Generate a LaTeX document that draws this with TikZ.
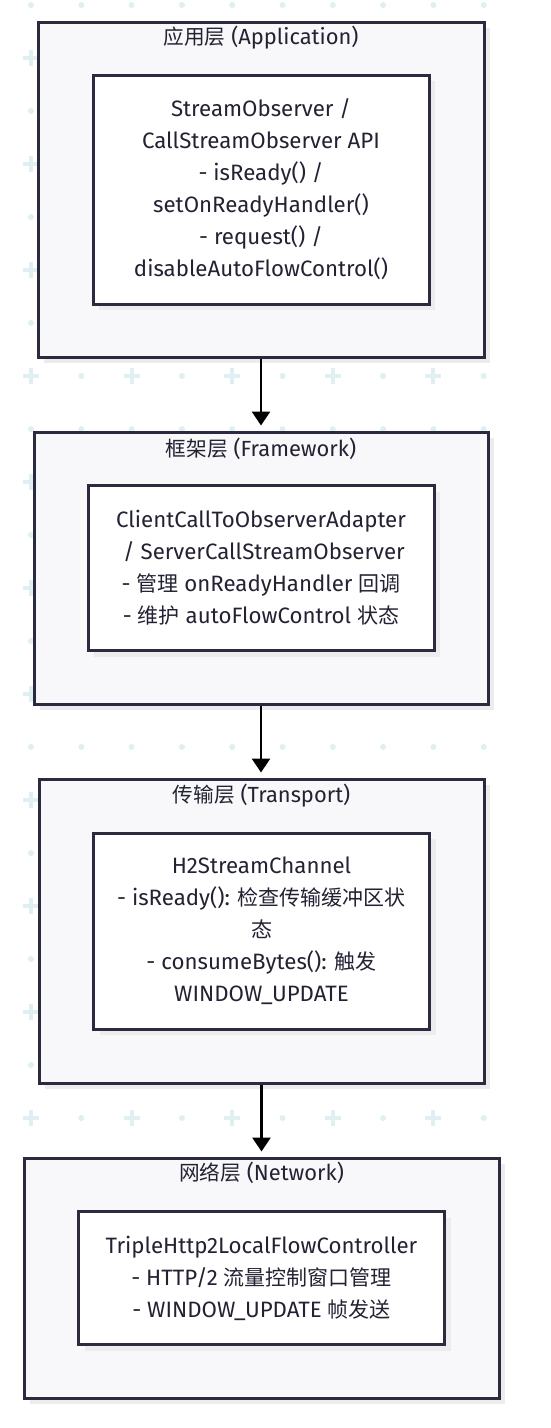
\documentclass[tikz,border=0pt]{standalone}
\usepackage{fontspec}
\setmainfont{Fira Sans}[Scale=1.06]
\newfontfamily\zhfont{Noto Sans CJK SC}
\newcommand{\zh}[1]{{\zhfont #1}}
\usetikzlibrary{positioning, arrows.meta, shadows}
\newlength{\px}
\setlength{\px}{0.75pt}
\definecolor{cBorder}{HTML}{2B2B40}
\definecolor{cLayer}{HTML}{F8F8FA}
\definecolor{cShadow}{HTML}{ECECEF}
\definecolor{cText}{HTML}{222233}
\definecolor{cGrid}{HTML}{DFEFF2}
\tikzset{
  layer/.style={
    rectangle, draw=cBorder, fill=cLayer, line width=3\px, inner sep=0pt,
    drop shadow={shadow xshift=6\px, shadow yshift=-6\px, fill=cShadow, opacity=1}
  },
  comp/.style={
    rectangle, draw=cBorder, fill=white, line width=3\px, inner sep=0pt,
    text=cText, align=center, font=\fontsize{15.75}{24}\selectfont,
    drop shadow={shadow xshift=6\px, shadow yshift=-6\px, fill=cShadow, opacity=1}
  },
  layertitle/.style={text=cText, font=\fontsize{15.5}{24}\selectfont, inner sep=0pt},
  flow/.style={-{Triangle[width=13.5pt, length=10.5pt]}, line width=2.2pt, shorten >=3.75pt},
  griddot/.style={fill=cGrid},
  gridcross/.style={draw=cGrid, line width=4\px},
}

\begin{document}
\begin{tikzpicture}[x=1\px, y=-1\px]

  \useasboundingbox (0,0) rectangle (550,1428);
  \fill[white] (0,0) rectangle (550,1428);

  % dotted background
  \foreach \j in {0,2,...,26}
    \foreach \i in {0,...,9}
      \fill[griddot] ({31+50.3*\i},{5+53*\j}) circle (3\px);
  \foreach \j in {1,3,...,27} {
    \foreach \i in {1,3,...,9}
      \fill[griddot] ({31+50.3*\i},{5+53*\j}) circle (3\px);
    \foreach \i in {0,2,...,8}
      \draw[gridcross, shift={({31+50.3*\i},{5+53*\j})}] (-8,0) -- (8,0) (0,-8) -- (0,8);
  }

  % layers
  \node[layer, minimum width=446\px, minimum height=335\px] (app) at (261,189.5) {};
  \node[layertitle] (appT) at ([yshift=-17\px]app.north) {\zh{应用层} (Application)};
  \node[comp, minimum width=336\px, minimum height=229\px] (appC) at (app.center)
    {StreamObserver /\\CallStreamObserver API\\- isReady() /\\setOnReadyHandler()\\- request() /\\disableAutoFlowControl()};

  \node[layer, minimum width=454\px, minimum height=272\px] (fw) at (261,568) {};
  \node[layertitle] (fwT) at ([yshift=-18\px]fw.north) {\zh{框架层} (Framework)};
  \node[comp, minimum width=346\px, minimum height=165\px] (fwC) at (fw.center)
    {ClientCallToObserverAdapter\\\ / ServerCallStreamObserver\\- \zh{管理} onReadyHandler \zh{回调}\\- \zh{维护} autoFlowControl \zh{状态}};

  \node[layer, minimum width=445\px, minimum height=304\px] (tp) at (261.5,931) {};
  \node[layertitle] (tpT) at ([yshift=-18\px]tp.north) {\zh{传输层} (Transport)};
  \node[comp, minimum width=336\px, minimum height=196\px] (tpC) at (tp.center)
    {H2StreamChannel\\- isReady(): \zh{检查传输缓冲区状}\\\zh{态}\\- consumeBytes(): \zh{触发}\\WINDOW\_UPDATE};

  \node[layer, minimum width=475\px, minimum height=240\px] (net) at (261.5,1278) {};
  \node[layertitle] (netT) at ([yshift=-16\px]net.north) {\zh{网络层} (Network)};
  \node[comp, minimum width=366\px, minimum height=133\px] (netC) at (net.center)
    {TripleHttp2LocalFlowController\\- HTTP/2 \zh{流量控制窗口管理}\\- WINDOW\_UPDATE \zh{帧发送}};

  \draw[flow] (app.south) -- (app.south |- fw.north);
  \draw[flow] (fw.south)  -- (fw.south |- tp.north);
  \draw[flow] (tp.south)  -- (tp.south |- net.north);

\end{tikzpicture}
\end{document}
